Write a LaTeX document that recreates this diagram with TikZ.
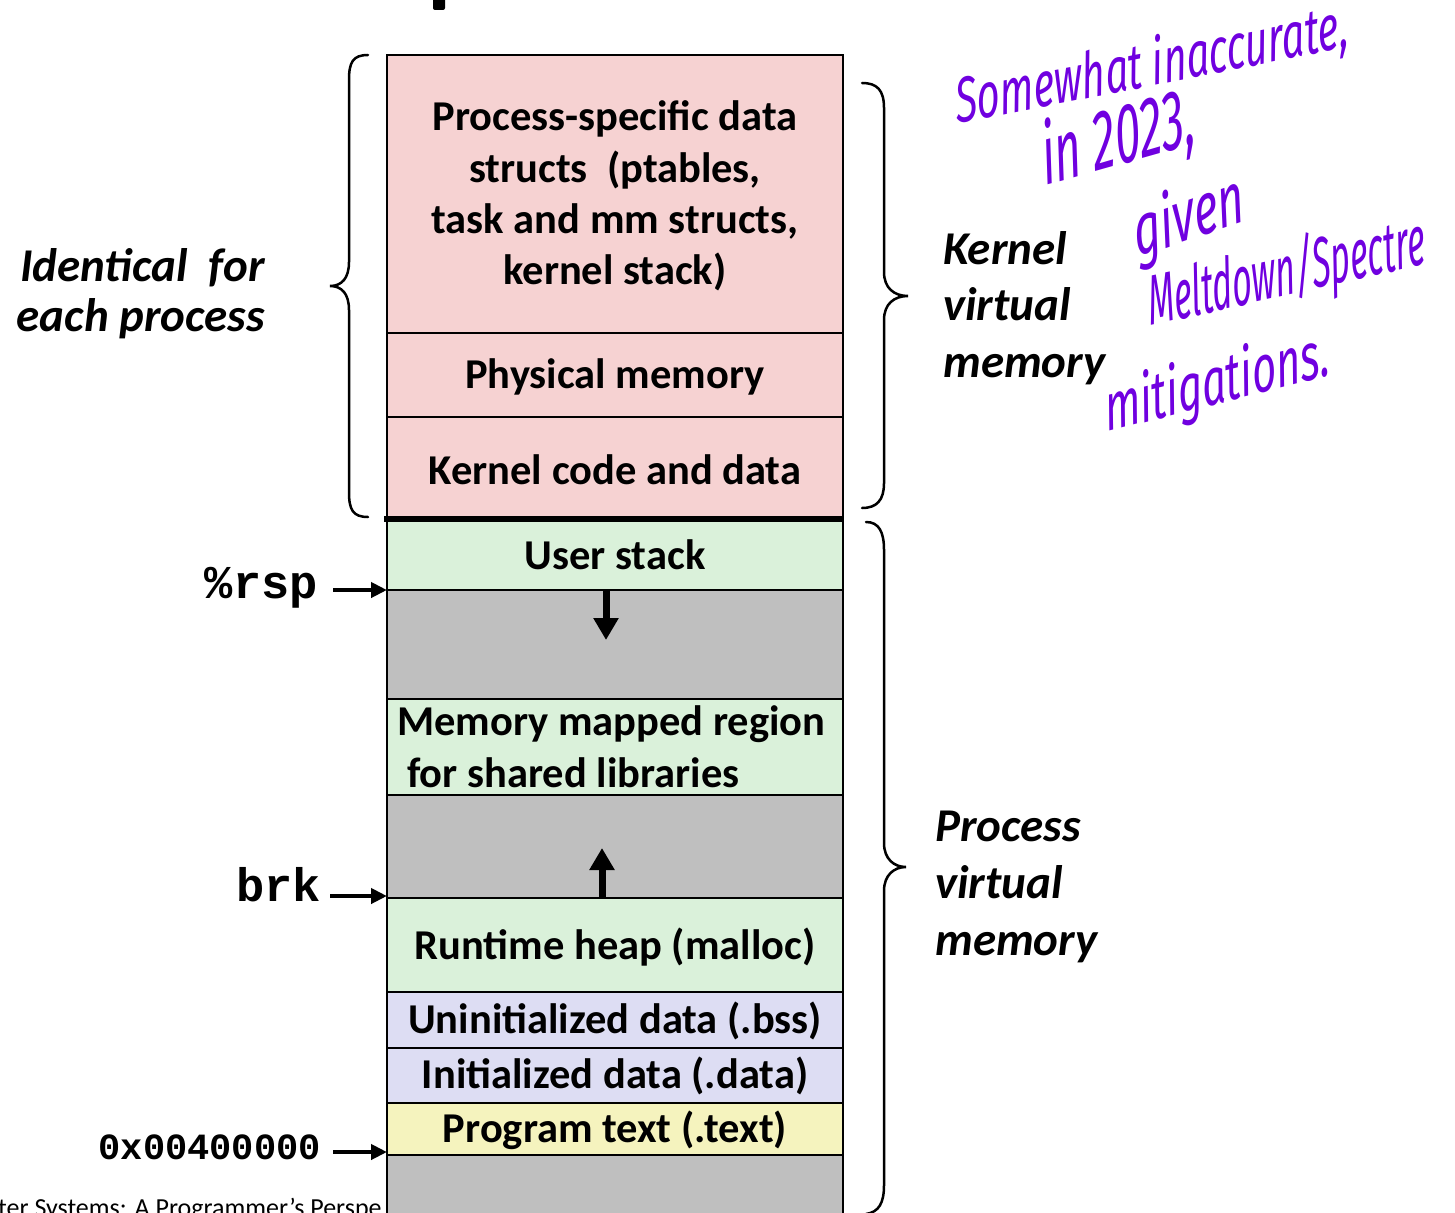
\documentclass[tikz,border=0pt]{standalone}
\usepackage{fontspec}
\setmainfont{Carlito}
\newfontfamily\monofam{Liberation Mono}
\newfontfamily\handfam{Fira Sans}
\usetikzlibrary{arrows.meta}
\definecolor{kpink}{RGB}{246,210,210}
\definecolor{ugreen}{RGB}{218,241,218}
\definecolor{ugray}{RGB}{191,191,191}
\definecolor{ulav}{RGB}{221,221,243}
\definecolor{uyel}{RGB}{245,243,190}
\definecolor{handc}{RGB}{112,0,224}
\begin{document}
\begin{tikzpicture}[x=1pt,y=-1pt,
  seg/.style={draw=black, line width=2pt, minimum width=456pt, inner sep=0pt, outer sep=0pt, anchor=north west},
  lbl/.style={font=\fontsize{42.5}{50}\selectfont\bfseries, anchor=base, inner sep=0pt},
  lblw/.style={font=\fontsize{42.5}{50}\selectfont\bfseries, anchor=base west, inner sep=0pt},
  side/.style={font=\fontsize{47}{50}\selectfont\bfseries\itshape, anchor=base west, inner sep=0pt},
  addr/.style={font=\monofam\bfseries\fontsize{37}{40}\selectfont, anchor=base east, inner sep=0pt},
  addrbig/.style={addr, font=\monofam\bfseries\fontsize{47}{50}\selectfont},
  ptr/.style={line width=4pt, -{Triangle[length=16pt,width=15pt]}},
  growarrow/.style={line width=7pt, -{Triangle[length=22pt,width=24pt]}},
  bracestyle/.style={line width=2.5pt, line cap=round},
  hand/.style={text=handc, font=\handfam\itshape\fontsize{40}{40}\selectfont, inner sep=0pt, anchor=base west, yscale=1.6}
]
\clip (0,0) rectangle (1455,1212);
\fill[white] (0,0) rectangle (1455,1212);

% footer (partly hidden by the memory column)
\node[font=\fontsize{26}{28}\selectfont, anchor=base west, inner sep=0pt] (foot) at (-2,1216) {ter Systems: A Programmer’s Perspe};

% fragment of cut-off title
\fill[rounded corners=2pt] (433,-5) rectangle (445,10);

% memory column
\node[seg, fill=kpink, minimum height=278pt] (ps) at (387,55) {};
\node[seg, fill=kpink, minimum height=84pt] (pm) at (387,333) {};
\node[seg, fill=kpink, minimum height=102pt] (kc) at (387,417) {};
\node[seg, fill=ugreen, minimum height=71pt] (us) at (387,519) {};
\node[seg, fill=ugray, minimum height=109pt] (g1) at (387,590) {};
\node[seg, fill=ugreen, minimum height=96pt] (mm) at (387,699) {};
\node[seg, fill=ugray, minimum height=103pt] (g2) at (387,795) {};
\node[seg, fill=ugreen, minimum height=94pt] (rh) at (387,898) {};
\node[seg, fill=ulav, minimum height=56pt] (bss) at (387,992) {};
\node[seg, fill=ulav, minimum height=55pt] (dat) at (387,1048) {};
\node[seg, fill=uyel, minimum height=52pt] (txt) at (387,1103) {};
\node[seg, fill=ugray, minimum height=90pt] (g3) at (387,1155) {};

\draw[line width=6pt] ([xshift=-3pt]kc.south west) -- (kc.south east);

% labels in the column
\node[lbl] (l1) at (615,130) {Process-specific data};
\node[lbl] (l2) at (615,182) {structs\ \ (ptables,};
\node[lbl] (l3) at (615,233) {task and mm structs,};
\node[lbl] (l4) at (615,284) {kernel stack)};
\node[lbl] (l5) at (615,388) {Physical memory};
\node[lbl] (l6) at (615,484) {Kernel code and data};
\node[lbl] (l7) at (615,569) {User stack};
\node[lblw] (l8) at (397,735) {Memory mapped region};
\node[lblw] (l9) at (407,787) {for shared libraries};
\node[lbl] (l10) at (615,959) {Runtime heap (malloc)};
\node[lbl] (l11) at (615,1033) {Uninitialized data (.bss)};
\node[lbl] (l12) at (615,1088) {Initialized data (.data)};
\node[lbl] (l13) at (615,1142) {Program text (.text)};

% growth arrows
\draw[growarrow] ([xshift=-9pt]g1.north) -- ++(0,50);
\draw[growarrow] ([xshift=-13pt]g2.south) -- ++(0,-50);

% address pointers
\node[addrbig] (rsp) at (318,598) {\%rsp};
\node[addrbig] (brk) at (321,901) {brk};
\node[addr] (addr) at (321,1159) {0x00400000};
\coordinate (rspT) at (333,590);
\coordinate (brkT) at (330,896);
\coordinate (addrT) at (333,1152);
\draw[ptr] (rspT) -- (rspT -| g1.west);
\draw[ptr] (brkT) -- (brkT -| rh.west);
\draw[ptr] (addrT) -- (addrT -| txt.west);

% side labels
\node[side, anchor=base east] (id1) at (265,281) {Identical\ \ for};
\node[side, anchor=base east] (id2) at (265,331) {each process};
\node[side] (k1) at (943,264) {Kernel};
\node[side] (k2) at (943,320) {virtual};
\node[side] (k3) at (943,377) {memory};
\node[side] (p1) at (935,841) {Process};
\node[side] (p2) at (935,898) {virtual};
\node[side] (p3) at (935,955) {memory};

% braces
\draw[bracestyle] (368,55) .. controls (353,55) and (349,62) .. (349,80) -- (349,262)
  .. controls (349,278) and (342,286) .. (330,286)
  .. controls (342,286) and (349,294) .. (349,310) -- (349,492)
  .. controls (349,510) and (353,517) .. (368,517);
\draw[bracestyle] (862,83) .. controls (877,83) and (884,90) .. (884,108) -- (884,272)
  .. controls (884,288) and (894,296) .. (908,296)
  .. controls (894,296) and (884,304) .. (884,320) -- (884,483)
  .. controls (884,500) and (877,508) .. (862,508);
\draw[bracestyle] (866,522) .. controls (879,522) and (884,532) .. (884,550) -- (884,843)
  .. controls (884,859) and (894,867) .. (906,867)
  .. controls (894,867) and (884,875) .. (884,891) -- (884,1185)
  .. controls (884,1203) and (879,1212) .. (866,1214);

% handwritten annotation
\node[hand, rotate=7] (h1) at (957,124) {Somewhat inaccurate,};
\node[hand, rotate=10, font=\handfam\itshape\fontsize{46}{46}\selectfont, yscale=1.15] (h2) at (1045,186) {in 2023,};
\node[hand, rotate=12, font=\handfam\itshape\fontsize{46}{46}\selectfont] (h3) at (1137,258) {given};
\node[hand, rotate=8, font=\handfam\itshape\fontsize{34}{34}\selectfont, yscale=1.3] (h4) at (1150,326) {Meltdown/Spectre};
\node[hand, rotate=9, font=\handfam\itshape\fontsize{42}{42}\selectfont] (h5) at (1107,432) {mitigations.};
\end{tikzpicture}
\end{document}
